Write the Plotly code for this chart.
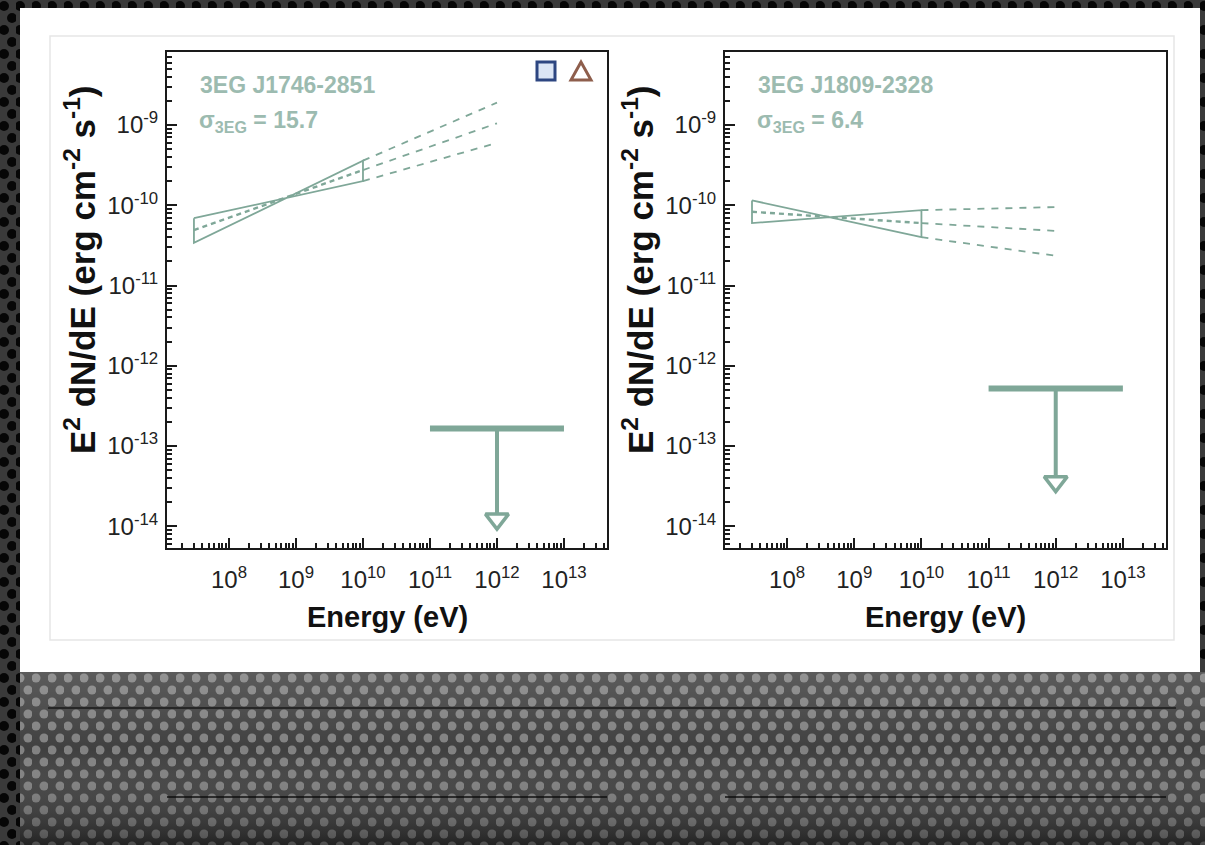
import base64
import plotly.graph_objects as go

W, H = 1205, 845

# ---- data -------------------------------------------------------------
source_names = ["3EG J1746-2851", "3EG J1809-2328"]
sigma_3eg = ["15.7", "6.4"]

egret_energy = [3e7, 1e10]                      # eV, measured band
hard_edge = [[3.4e-11, 3.6e-10], [6.0e-11, 8.7e-11]]
soft_edge = [[6.9e-11, 2.0e-10], [1.15e-10, 4.0e-11]]
best_fit = [[4.9e-11, 2.75e-10], [8.3e-11, 6.0e-11]]

extrap_energy = [1e10, 1e12]                    # eV, extrapolation
extrap_upper = [[3.6e-10, 1.9e-9], [8.7e-11, 9.5e-11]]
extrap_mid = [[2.75e-10, 1.05e-9], [6.0e-11, 4.8e-11]]
extrap_lower = [[2.0e-10, 6.0e-10], [4.0e-11, 2.35e-11]]

ul_band = [1e11, 1e13]                          # eV, upper-limit band
ul_energy = 1e12
ul_flux = [1.66e-13, 5.2e-13]
ul_arrow_end = [1.23e-14, 3.6e-14]

x_ticks = [1e8, 1e9, 1e10, 1e11, 1e12, 1e13]
x_ticktext = ["10<sup>8</sup>", "10<sup>9</sup>", "10<sup>10</sup>",
              "10<sup>11</sup>", "10<sup>12</sup>", "10<sup>13</sup>"]
y_ticks = [1e-9, 1e-10, 1e-11, 1e-12, 1e-13, 1e-14]
y_ticktext = ["10<sup>-9</sup>", "10<sup>-10</sup>", "10<sup>-11</sup>",
              "10<sup>-12</sup>", "10<sup>-13</sup>", "10<sup>-14</sup>"]

# ---- style --------------------------------------------------------------
TEAL = "#7fa798"
TEAL_TXT = "#9cbbb0"
FONT = "Liberation Sans, Arial, Helvetica, sans-serif"


def px_x(v):
    return v / W


def px_y(v):
    return 1 - v / H


# perforated-metal backdrop with a faded reflection strip
svg = f"""<svg xmlns="http://www.w3.org/2000/svg" width="{W}" height="{H}" viewBox="0 0 {W} {H}">
<defs>
<pattern id="a" width="16" height="24" patternUnits="userSpaceOnUse">
<rect width="16" height="24" fill="#3a3a3a"/>
<circle cx="4" cy="6" r="5" fill="#060606"/>
<circle cx="12" cy="18" r="5" fill="#060606"/>
</pattern>
<pattern id="b" width="16" height="24" patternUnits="userSpaceOnUse">
<rect width="16" height="24" fill="#383838"/>
<circle cx="4" cy="6" r="4.5" fill="#7c7c7c"/>
<circle cx="12" cy="18" r="4.5" fill="#7c7c7c"/>
</pattern>
<linearGradient id="g" x1="0" y1="0" x2="0" y2="1">
<stop offset="0" stop-color="#ffffff" stop-opacity="0.18"/>
<stop offset="0.45" stop-color="#ffffff" stop-opacity="0.04"/>
<stop offset="1" stop-color="#000000" stop-opacity="0.38"/>
</linearGradient>
</defs>
<rect width="{W}" height="{H}" fill="url(#a)"/>
<rect x="20" y="672" width="{W-20}" height="{H-672}" fill="url(#b)"/>
<rect x="20" y="672" width="{W-20}" height="{H-672}" fill="url(#g)"/>
</svg>"""
bg_src = "data:image/svg+xml;base64," + base64.b64encode(svg.encode()).decode()

fig = go.Figure()

# plot-area placement (pixels)
x_dom_px = [(167, 607), (725, 1166)]
y_dom_px = (52, 548)

for i in range(2):
    xa = "x" if i == 0 else "x2"
    ya = "y" if i == 0 else "y2"

    # butterfly outline (two crossing power laws + end caps)
    bx = [egret_energy[0], egret_energy[1], egret_energy[1], egret_energy[0], egret_energy[0]]
    by = [soft_edge[i][0], soft_edge[i][1], hard_edge[i][1], hard_edge[i][0], soft_edge[i][0]]
    fig.add_trace(go.Scatter(x=bx, y=by, mode="lines", xaxis=xa, yaxis=ya,
                             line=dict(color=TEAL, width=1.8), showlegend=False,
                             hoverinfo="skip"))
    # best-fit line inside the butterfly
    fig.add_trace(go.Scatter(x=egret_energy, y=best_fit[i], mode="lines", xaxis=xa, yaxis=ya,
                             line=dict(color=TEAL, width=2.4, dash="5px,4px"),
                             showlegend=False, hoverinfo="skip"))
    # dashed extrapolations
    for ys in (extrap_upper[i], extrap_mid[i], extrap_lower[i]):
        fig.add_trace(go.Scatter(x=extrap_energy, y=ys, mode="lines", xaxis=xa, yaxis=ya,
                                 line=dict(color=TEAL, width=1.8, dash="7px,7px"),
                                 showlegend=False, hoverinfo="skip"))
    # upper limit: bar + arrow
    fig.add_trace(go.Scatter(x=ul_band, y=[ul_flux[i], ul_flux[i]], mode="lines",
                             xaxis=xa, yaxis=ya, line=dict(color=TEAL, width=6),
                             showlegend=False, hoverinfo="skip"))
    fig.add_trace(go.Scatter(x=[ul_energy, ul_energy], y=[ul_flux[i], ul_arrow_end[i]],
                             mode="lines", xaxis=xa, yaxis=ya,
                             line=dict(color=TEAL, width=4),
                             showlegend=False, hoverinfo="skip"))
    fig.add_trace(go.Scatter(x=[ul_energy], y=[ul_arrow_end[i]], mode="markers",
                             xaxis=xa, yaxis=ya,
                             marker=dict(symbol="triangle-down", size=20, color="white",
                                         line=dict(color=TEAL, width=3.5)),
                             showlegend=False, hoverinfo="skip"))

    # labels inside the panel
    x0 = x_dom_px[i][0] + 31
    fig.add_annotation(x=px_x(x0), y=px_y(85), xref="paper", yref="paper",
                       xanchor="left", yanchor="middle", showarrow=False,
                       text=f"<b>{source_names[i]}</b>",
                       font=dict(family=FONT, size=23, color=TEAL_TXT))
    fig.add_annotation(x=px_x(x0 - 1), y=px_y(121), xref="paper", yref="paper",
                       xanchor="left", yanchor="middle", showarrow=False,
                       text=f"<b>σ<sub>3EG</sub> = {sigma_3eg[i]}</b>",
                       font=dict(family=FONT, size=23, color=TEAL_TXT))

    # axis titles
    off = x_dom_px[i][0] - 167
    fig.add_annotation(x=px_x(387 + off), y=px_y(617), xref="paper", yref="paper",
                       xanchor="center", yanchor="middle", showarrow=False,
                       text="<b>Energy (eV)</b>",
                       font=dict(family=FONT, size=29, color="#111111"))
    fig.add_annotation(x=px_x(80 + off), y=px_y(270), xref="paper", yref="paper",
                       xanchor="center", yanchor="middle", showarrow=False, textangle=-90,
                       text="<b>E<sup>2</sup> dN/dE (erg cm<sup>-2</sup> s<sup>-1</sup>)</b>",
                       font=dict(family=FONT, size=35, color="#111111"))

x_minor = [k * 10 ** n for n in range(7, 14) for k in range(2, 10)]
y_minor = [k * 10.0 ** n for n in range(-15, -7) for k in range(2, 10)]

axis_common = dict(type="log", showline=True, mirror=True, linecolor="#1a1a1a",
                   linewidth=2, showgrid=False, zeroline=False, ticks="inside",
                   tickcolor="#1a1a1a", tickwidth=2, ticklen=10,
                   tickfont=dict(family=FONT, size=24, color="#222222"))

for i in range(2):
    sfx = "" if i == 0 else "2"
    fig.update_layout({
        f"xaxis{sfx}": dict(axis_common, domain=[px_x(x_dom_px[i][0]), px_x(x_dom_px[i][1])],
                            range=[7.075, 13.642], tickmode="array", tickvals=x_ticks,
                            ticktext=x_ticktext, anchor=f"y{sfx}", ticklabelstandoff=9,
                            minor=dict(tickmode="array", tickvals=x_minor, ticks="inside",
                                       ticklen=5, tickwidth=1.5, tickcolor="#1a1a1a")),
        f"yaxis{sfx}": dict(axis_common, domain=[px_y(y_dom_px[1]), px_y(y_dom_px[0])],
                            range=[-14.27, -8.09], tickmode="array", tickvals=y_ticks,
                            ticktext=y_ticktext, anchor=f"x{sfx}", ticklabelstandoff=2,
                            minor=dict(tickmode="array", tickvals=y_minor, ticks="inside",
                                       ticklen=5, tickwidth=1.5, tickcolor="#1a1a1a")),
    })

shapes = [
    # white slide panel
    dict(type="rect", xref="paper", yref="paper", layer="below",
         x0=px_x(20), x1=px_x(1200), y0=px_y(672), y1=px_y(8),
         fillcolor="white", line=dict(width=0)),
    # faint frame around the figure
    dict(type="rect", xref="paper", yref="paper", layer="below",
         x0=px_x(50), x1=px_x(1174), y0=px_y(640), y1=px_y(36),
         fillcolor="rgba(0,0,0,0)", line=dict(color="#e6e6e6", width=1.5)),
    # reflected frame edge and axis lines
    dict(type="line", xref="paper", yref="paper", layer="below",
         x0=px_x(48), x1=px_x(1176), y0=px_y(708), y1=px_y(708),
         line=dict(color="rgba(10,10,10,0.75)", width=1.5)),
    dict(type="line", xref="paper", yref="paper", layer="below",
         x0=px_x(167), x1=px_x(607), y0=px_y(797), y1=px_y(797),
         line=dict(color="rgba(10,10,10,0.7)", width=2)),
    dict(type="line", xref="paper", yref="paper", layer="below",
         x0=px_x(725), x1=px_x(1166), y0=px_y(797), y1=px_y(797),
         line=dict(color="rgba(10,10,10,0.7)", width=2)),
    # marker key in the first panel
    dict(type="rect", xref="paper", yref="paper",
         x0=px_x(537), x1=px_x(555), y0=px_y(80), y1=px_y(62),
         fillcolor="#dbe5f5", line=dict(color="#2d4681", width=3)),
    dict(type="path", xref="paper", yref="paper",
         path=f"M {px_x(571)} {px_y(80)} L {px_x(591)} {px_y(80)} L {px_x(581)} {px_y(62)} Z",
         fillcolor="white", line=dict(color="#8e5e4c", width=3)),
]

fig.update_layout(
    width=W, height=H, margin=dict(l=0, r=0, t=0, b=0),
    paper_bgcolor="#2a2a2a", plot_bgcolor="white",
    showlegend=False,
    shapes=shapes,
    images=[dict(source=bg_src, xref="paper", yref="paper", x=0, y=1,
                 sizex=1, sizey=1, xanchor="left", yanchor="top",
                 sizing="stretch", layer="below")],
)

fig.write_html("out.html")
